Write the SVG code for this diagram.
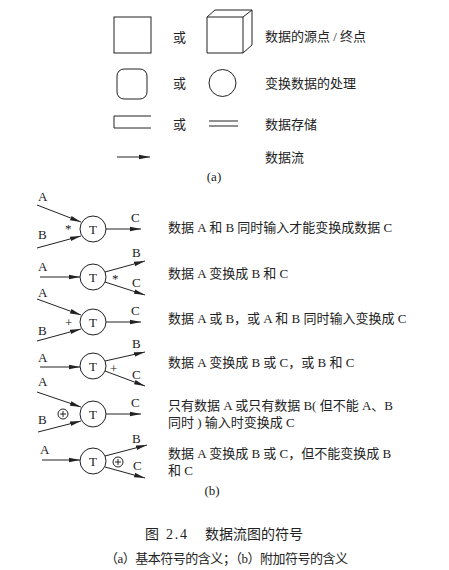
<svg xmlns="http://www.w3.org/2000/svg" width="449" height="570" viewBox="0 0 449 570">
<style>
.s{fill:none;stroke:#222;stroke-width:1}
.t{font-family:"Liberation Serif","Noto Sans CJK SC",serif;font-size:13px;fill:#222}
.l{font-family:"Liberation Serif",serif;font-size:13px;fill:#222}
.m{text-anchor:middle}
.a{fill:none;stroke:#222;stroke-width:1;marker-end:url(#ah)}
</style>
<defs>
<marker id="ah" markerUnits="userSpaceOnUse" markerWidth="11" markerHeight="6" refX="11" refY="3" orient="auto">
<path d="M0,0.7 L11,3 L0,5.3 Z" fill="#222"/>
</marker>
</defs>
<rect width="449" height="570" fill="#fff"/>
<!-- part (a) -->
<g id="a-source">
<rect class="s" x="114" y="17" width="37" height="36"/>
<text class="t" x="173" y="42">或</text>
<path class="s" d="M207,17 H243 V53 H207 Z M207,17 L215,10 H252 V45 L243,53 M243,17 L252,10"/>
<text class="t" x="265" y="41">数据的源点 / 终点</text>
</g>
<g id="a-process">
<rect class="s" x="117" y="69" width="30" height="30" rx="7"/>
<text class="t" x="173" y="88">或</text>
<circle class="s" cx="222.5" cy="83" r="13.5"/>
<text class="t" x="265" y="88">变换数据的处理</text>
</g>
<g id="a-store">
<path class="s" d="M151,116 H114 V128 H151"/>
<text class="t" x="173" y="129">或</text>
<path class="s" d="M209,121 H238 M209,126 H238"/>
<text class="t" x="265" y="129">数据存储</text>
</g>
<g id="a-flow">
<line class="a" x1="117" y1="157" x2="150" y2="157"/>
<text class="t" x="265" y="162">数据流</text>
</g>
<text class="l m" x="214" y="181">(a)</text>
<!-- part (b) nodes -->
<g id="r1">
<circle class="s" cx="93" cy="229" r="13"/>
<text class="l m" x="93" y="233.5">T</text>
<text class="l" x="38" y="201">A</text>
<text class="l" x="38" y="239">B</text>
<text class="l" x="65" y="233">*</text>
<text class="l" x="131" y="222">C</text>
<text class="t" x="168" y="232">数据 A 和 B 同时输入才能变换成数据 C</text>
</g>
<g id="r2">
<circle class="s" cx="93" cy="277" r="13"/>
<text class="l m" x="93" y="281.5">T</text>
<text class="l" x="38" y="271">A</text>
<text class="l" x="112" y="283">*</text>
<text class="l" x="132" y="257">B</text>
<text class="l" x="132" y="287">C</text>
<text class="t" x="168" y="278">数据 A 变换成 B 和 C</text>
</g>
<g id="r3">
<circle class="s" cx="93" cy="322" r="13"/>
<text class="l m" x="93" y="326.5">T</text>
<text class="l" x="38" y="297">A</text>
<text class="l" x="38" y="335">B</text>
<text class="l" x="65" y="327">+</text>
<text class="l" x="131" y="315">C</text>
<text class="t" x="168" y="323">数据 A 或 B，或 A 和 B 同时输入变换成 C</text>
</g>
<g id="r4">
<circle class="s" cx="93" cy="366" r="13"/>
<text class="l m" x="93" y="370.5">T</text>
<text class="l" x="38" y="362">A</text>
<text class="l" x="110" y="373">+</text>
<text class="l" x="132" y="348">B</text>
<text class="l" x="132" y="379">C</text>
<text class="t" x="168" y="367">数据 A 变换成 B 或 C，或 B 和 C</text>
</g>
<g id="r5">
<circle class="s" cx="93" cy="414" r="13"/>
<text class="l m" x="93" y="418.5">T</text>
<text class="l" x="38" y="386">A</text>
<text class="l" x="38" y="424">B</text>
<circle class="s" cx="63" cy="414" r="5"/>
<path class="s" d="M60,414 H66 M63,411 V417"/>
<text class="l" x="131" y="407">C</text>
<text class="t" x="168" y="410">只有数据 A 或只有数据 B( 但不能 A、B</text>
<text class="t" x="168" y="427">同时 ) 输入时变换成 C</text>
</g>
<g id="r6">
<circle class="s" cx="93" cy="461" r="13"/>
<text class="l m" x="93" y="465.5">T</text>
<text class="l" x="40" y="454">A</text>
<circle class="s" cx="118" cy="462" r="5"/>
<path class="s" d="M115,462 H121 M118,459 V465"/>
<text class="l" x="132" y="443">B</text>
<text class="l" x="133" y="470">C</text>
<text class="t" x="168" y="458">数据 A 变换成 B 或 C，但不能变换成 B</text>
<text class="t" x="168" y="475">和 C</text>
</g>
<!-- connectors -->
<g id="connectors">
<line class="a" x1="37" y1="205" x2="81" y2="222"/>
<line class="a" x1="37" y1="248" x2="81" y2="236"/>
<line class="a" x1="106" y1="229" x2="141" y2="229"/>
<line class="a" x1="40" y1="277" x2="80" y2="277"/>
<line class="a" x1="105" y1="272" x2="145" y2="261"/>
<line class="a" x1="105" y1="282" x2="145" y2="295"/>
<line class="a" x1="37" y1="299" x2="81" y2="315"/>
<line class="a" x1="37" y1="341" x2="81" y2="329"/>
<line class="a" x1="106" y1="322" x2="141" y2="322"/>
<line class="a" x1="40" y1="367" x2="80" y2="367"/>
<line class="a" x1="105" y1="361" x2="145" y2="352"/>
<line class="a" x1="105" y1="371" x2="145" y2="386"/>
<line class="a" x1="37" y1="392" x2="81" y2="407"/>
<line class="a" x1="38" y1="432" x2="81" y2="421"/>
<line class="a" x1="106" y1="414" x2="141" y2="414"/>
<line class="a" x1="42" y1="460" x2="80" y2="460"/>
<line class="a" x1="105" y1="456" x2="147" y2="445"/>
<line class="a" x1="105" y1="467" x2="145" y2="478"/>
</g>
<text class="l m" x="212" y="495">(b)</text>
<text class="t" x="145" y="539" style="font-size:14px" textLength="42">图 2.4</text>
<text class="t" x="205" y="539" style="font-size:14px" textLength="98">数据流图的符号</text>
<text class="t" x="105" y="563" style="font-size:13px" textLength="243">（a）基本符号的含义；（b）附加符号的含义</text>
</svg>
